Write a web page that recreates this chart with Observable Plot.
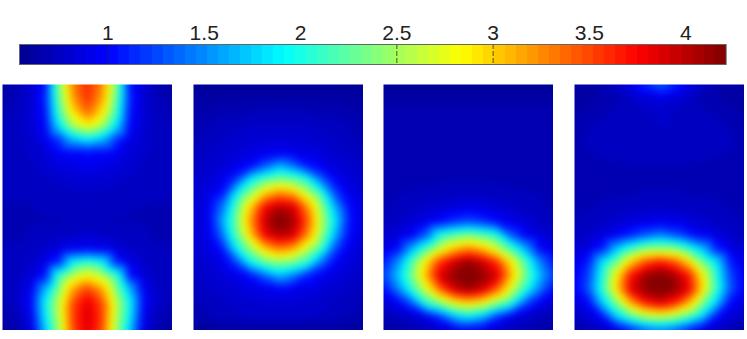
<!DOCTYPE html>
<html><head><meta charset="utf-8">
<script src="https://cdn.jsdelivr.net/npm/d3@7"></script>
<script src="https://cdn.jsdelivr.net/npm/@observablehq/plot@0.6"></script>
<style>
html,body{margin:0;padding:0;background:#fff;overflow:hidden}
#c{position:relative;width:747px;height:339px}
#c svg{position:absolute;display:block;background:transparent}
</style></head><body><div id="c"></div>
<script>
const tickValues = [1, 1.5, 2, 2.5, 3, 3.5, 4];
const markedTicks = [1, 2.5, 3];
const valueDomain = [0.541, 4.21];
const panel1 = [
[.6,.68,.8,1.05,2.4,3.3,3.6,3.3,2.4,1.05,.8,.68,.6],
[.66,.72,.82,1.1,2.3,3.2,3.6,3.2,2.3,1.1,.82,.72,.66],
[.7,.74,.82,1.05,2.15,2.95,3.4,2.95,2.15,1.05,.82,.74,.7],
[.72,.75,.82,.98,1.85,2.55,2.85,2.55,1.85,.98,.82,.75,.72],
[.72,.75,.8,.9,1.2,1.7,1.9,1.7,1.2,.9,.8,.75,.72],
[.72,.74,.78,.84,.95,1.0,1.02,1.0,.95,.84,.78,.74,.72],
[.72,.74,.76,.8,.86,.9,.92,.9,.86,.8,.76,.74,.72],
[.72,.73,.75,.76,.79,.81,.82,.81,.79,.76,.75,.73,.72],
[.72,.72,.73,.73,.74,.75,.77,.75,.74,.73,.73,.72,.72],
[.71,.71,.71,.72,.72,.72,.73,.72,.72,.72,.71,.71,.71],
[.7,.7,.71,.71,.71,.72,.72,.72,.71,.71,.71,.7,.7],
[.7,.7,.72,.74,.76,.78,.8,.78,.76,.74,.72,.7,.7],
[.72,.72,.74,.78,.84,.92,.98,.92,.84,.78,.74,.72,.72],
[.72,.74,.78,.88,1.15,1.95,2.1,1.95,1.15,.88,.78,.74,.72],
[.72,.75,.82,1.05,2.15,2.6,2.85,2.6,2.15,1.05,.82,.75,.72],
[.72,.77,.92,1.65,2.4,3.2,3.55,3.2,2.4,1.65,.92,.77,.72],
[.7,.77,.98,1.9,2.65,3.5,3.85,3.5,2.65,1.9,.98,.77,.7],
[.66,.72,.92,1.85,2.6,3.55,3.9,3.55,2.6,1.85,.92,.72,.66],
[.58,.66,.85,1.7,2.5,3.5,3.85,3.5,2.5,1.7,.85,.66,.58]];
const panel2 = [
[.58,.58,.58,.58,.58,.58,.58,.58,.58,.58,.58,.58,.58],
[.62,.63,.64,.64,.65,.65,.65,.65,.65,.64,.64,.63,.62],
[.65,.67,.69,.7,.71,.72,.72,.72,.71,.7,.69,.67,.65],
[.68,.71,.74,.76,.77,.78,.78,.78,.77,.76,.74,.71,.68],
[.7,.73,.76,.79,.81,.83,.83,.83,.81,.79,.76,.73,.7],
[.73,.77,.8,.84,.88,.91,.95,.91,.88,.84,.8,.77,.73],
[.76,.79,.84,.91,1.03,1.34,1.65,1.45,1.11,.94,.86,.81,.77],
[.79,.83,.91,1.23,1.91,2.25,2.42,2.33,2.09,1.43,.99,.85,.8],
[.81,.87,1.06,1.88,2.46,3.04,3.31,3.19,2.66,2.14,1.27,.92,.82],
[.83,.9,1.39,2.2,3.01,3.77,4.02,3.93,3.29,2.49,1.65,1.02,.84],
[.83,.9,1.56,2.31,3.19,3.92,4.25,4.09,3.48,2.61,1.84,1.06,.85],
[.83,.9,1.39,2.2,3.01,3.77,4.02,3.93,3.29,2.49,1.65,1.02,.84],
[.81,.87,1.06,1.88,2.46,3.04,3.31,3.19,2.66,2.14,1.27,.92,.82],
[.79,.83,.91,1.23,1.91,2.25,2.42,2.33,2.09,1.43,.99,.85,.8],
[.76,.79,.84,.91,1.03,1.34,1.65,1.45,1.11,.94,.86,.81,.77],
[.73,.77,.8,.84,.88,.91,.95,.91,.88,.84,.8,.77,.73],
[.7,.73,.76,.79,.81,.83,.83,.83,.81,.79,.76,.73,.7],
[.68,.71,.74,.76,.77,.78,.78,.78,.77,.76,.74,.71,.68],
[.58,.59,.6,.6,.6,.6,.6,.6,.6,.6,.6,.59,.58]];
const panel3 = [
[.58,.58,.58,.58,.58,.58,.58,.58,.58,.58,.58,.58,.58],
[.62,.62,.62,.62,.62,.62,.62,.62,.62,.62,.62,.62,.62],
[.68,.68,.68,.68,.68,.68,.68,.68,.68,.68,.68,.68,.68],
[.7,.7,.7,.7,.7,.7,.7,.7,.7,.7,.7,.7,.7],
[.7,.7,.7,.7,.7,.7,.7,.7,.7,.7,.7,.7,.7],
[.7,.7,.7,.7,.7,.7,.7,.7,.7,.7,.7,.7,.7],
[.7,.7,.7,.7,.7,.7,.7,.7,.7,.7,.7,.7,.7],
[.7,.7,.7,.7,.7,.71,.71,.71,.7,.7,.7,.7,.7],
[.69,.71,.72,.73,.74,.75,.76,.75,.74,.73,.72,.71,.69],
[.7,.73,.76,.79,.82,.86,.9,.86,.82,.79,.76,.73,.7],
[.72,.76,.82,.88,1.0,1.15,1.25,1.15,1.0,.88,.82,.76,.72],
[.78,.85,.95,1.3,2.0,2.2,2.35,2.2,2.0,1.3,.95,.85,.78],
[.85,1.0,1.6,2.15,2.65,3.05,3.25,3.05,2.65,2.15,1.6,1.0,.85],
[1.05,1.5,2.2,2.9,3.6,3.95,4.15,3.95,3.6,2.9,2.2,1.5,1.05],
[1.2,1.7,2.35,3.1,3.9,4.15,4.3,4.15,3.9,3.1,2.35,1.7,1.2],
[1.0,1.45,2.05,2.7,3.4,3.9,4.1,3.9,3.4,2.7,2.05,1.45,1.0],
[.82,.95,1.3,2.05,2.4,2.8,2.95,2.8,2.4,2.05,1.3,.95,.82],
[.7,.74,.8,.9,1.2,1.65,1.85,1.65,1.2,.9,.8,.74,.7],
[.6,.64,.68,.72,.78,.85,.9,.85,.78,.72,.68,.64,.6]];
const panel4 = [
[.6,.62,.66,.75,.9,1.15,1.35,1.15,.9,.75,.66,.62,.6],
[.62,.64,.67,.7,.76,.82,.88,.82,.76,.7,.67,.64,.62],
[.64,.68,.7,.72,.74,.76,.78,.76,.74,.72,.7,.68,.64],
[.68,.71,.73,.74,.76,.77,.77,.77,.76,.74,.73,.71,.68],
[.7,.72,.73,.74,.75,.76,.76,.76,.75,.74,.73,.72,.7],
[.7,.71,.72,.73,.74,.75,.75,.75,.74,.73,.72,.71,.7],
[.7,.7,.7,.7,.71,.71,.71,.71,.71,.7,.7,.7,.7],
[.7,.7,.7,.7,.7,.7,.7,.7,.7,.7,.7,.7,.7],
[.7,.7,.71,.71,.71,.72,.72,.72,.71,.71,.71,.7,.7],
[.7,.71,.72,.74,.76,.77,.78,.77,.76,.74,.72,.71,.7],
[.71,.73,.76,.8,.85,.88,.92,.88,.85,.8,.76,.73,.71],
[.74,.78,.85,.95,1.1,1.3,1.45,1.3,1.1,.95,.85,.78,.74],
[.8,.87,1.1,1.7,2.1,2.4,2.45,2.4,2.1,1.7,1.1,.87,.8],
[.87,1.1,1.85,2.35,3.05,3.5,3.7,3.5,3.05,2.35,1.85,1.1,.87],
[.92,1.25,2.05,2.9,3.75,4.1,4.25,4.1,3.75,2.9,2.05,1.25,.92],
[.95,1.3,2.1,3.0,3.85,4.15,4.3,4.15,3.85,3.0,2.1,1.3,.95],
[.84,1.0,1.75,2.4,3.15,3.65,3.85,3.65,3.15,2.4,1.75,1.0,.84],
[.75,.85,1.05,1.75,2.2,2.5,2.6,2.5,2.2,1.75,1.05,.85,.75],
[.62,.68,.75,.85,1.05,1.3,1.4,1.3,1.05,.85,.75,.68,.62]];

// 64-step jet colour map, as used by the colour bar and the panels
const jetAnchors = ["#00008f", "#0000ff", "#00ffff", "#ffff00", "#ff0000", "#800000"];
const jet = d3.scaleLinear().domain([0, 1/8, 3/8, 5/8, 7/8, 1]).range(jetAnchors);
const jet64 = d3.range(64).map(i => jet((i + 0.5) / 64));
const step = (valueDomain[1] - valueDomain[0]) / 64;
const lower = d3.range(64).map(i => valueDomain[0] + i * step);
const colorScale = {type: "threshold", domain: lower.slice(1), range: jet64};
const bands = lower.map(v => ({lo: v, hi: v + step, mid: v + step / 2}));

const c = document.getElementById("c");
const font = '"Liberation Sans", Helvetica, Arial, sans-serif';

const bar = Plot.plot({
  width: 747, height: 65, marginLeft: 19, marginRight: 21.3, marginTop: 44, marginBottom: 1,
  style: {fontFamily: font, background: "transparent"},
  x: {domain: valueDomain, axis: null}, color: colorScale,
  marks: [
    Plot.rect(bands, {x1: "lo", x2: "hi", fill: "mid", inset: 0, shapeRendering: "crispEdges"}),
    Plot.ruleX(markedTicks, {stroke: "#222", strokeOpacity: 0.75, strokeDasharray: "5,2", strokeWidth: 1}),
    Plot.frame({stroke: "#666", strokeWidth: 1}),
    Plot.axisX(tickValues, {anchor: "top", tickSize: 0, tickPadding: 5, fontSize: 21, fontWeight: 300, tickFormat: String, fill: "#222", label: null})
  ]
});
bar.style.left = "0px"; bar.style.top = "0px";
c.appendChild(bar);

const panels = [[panel1, 2], [panel2, 193], [panel3, 383], [panel4, 573.5]];
for (const [grid, left] of panels) {
  const pts = grid.flatMap((row, j) => row.map((v, i) => ({x: i, y: j, v})));
  const p = Plot.plot({
    width: 170, height: 246, margin: 0,
    style: {background: "transparent"},
    x: {domain: [0, 12], axis: null},
    y: {domain: [18, 0], axis: null},
    color: colorScale,
    marks: [Plot.raster(pts, {x: "x", y: "y", fill: "v", x1: 0, x2: 12, y1: 0, y2: 18, interpolate: "barycentric", blur: 3})]
  });
  p.style.left = left + "px"; p.style.top = "84px";
  c.appendChild(p);
}
</script></body></html>
